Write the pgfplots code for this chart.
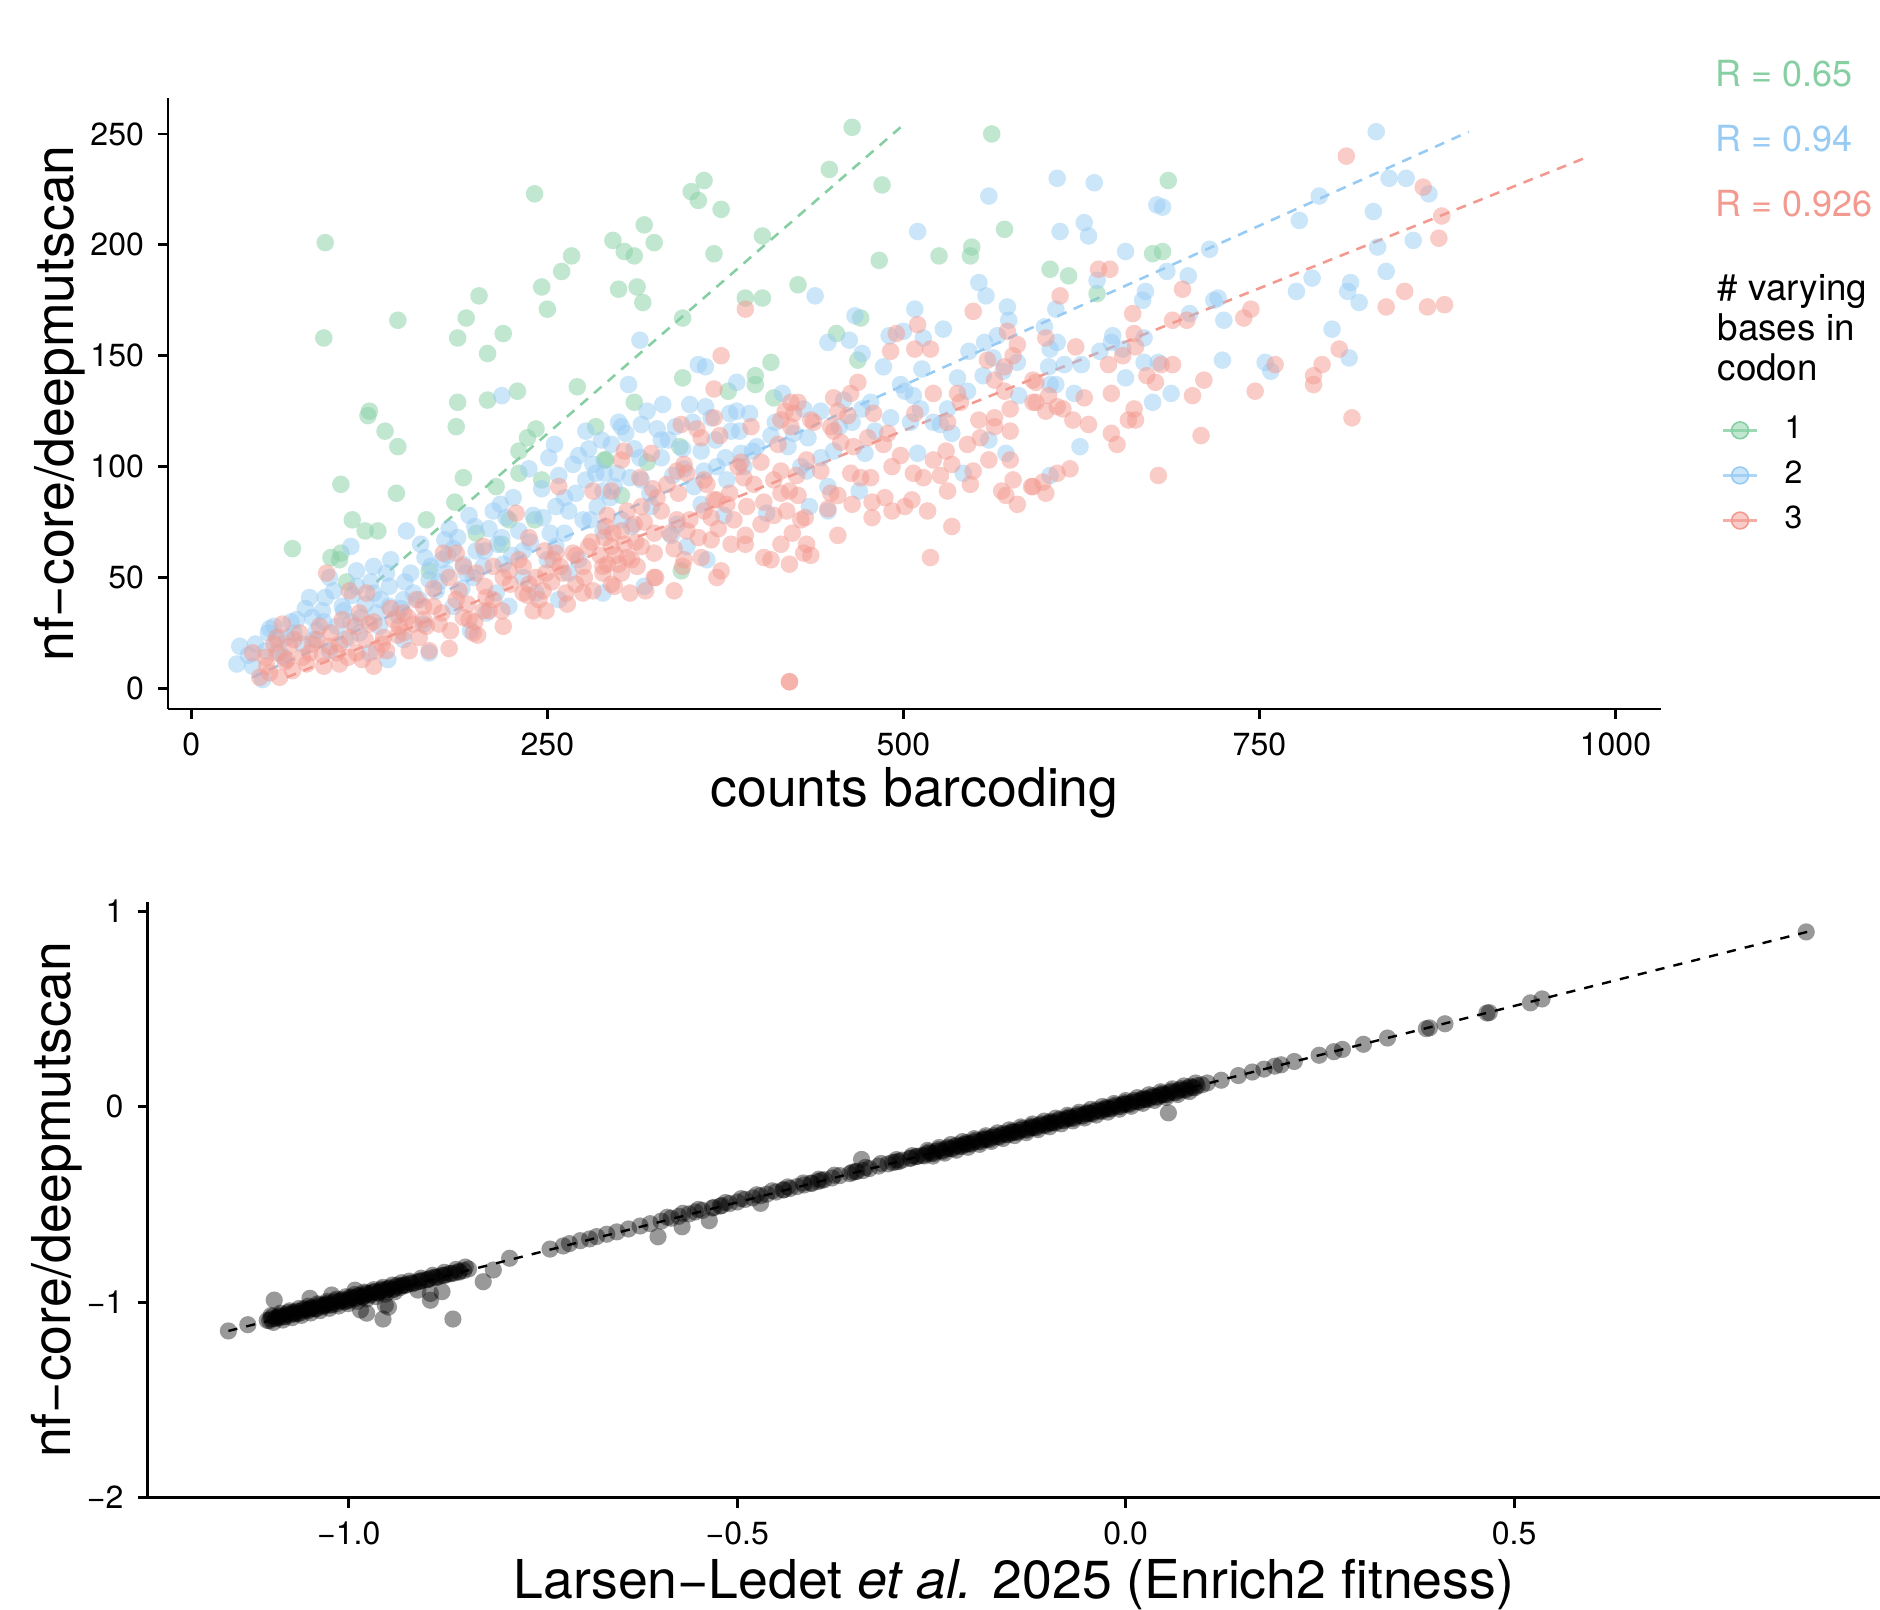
\documentclass[border=0pt]{standalone}
\usepackage{fontspec}
\setmainfont{TeX Gyre Heros}
\usepackage{pgfplots}
\pgfplotsset{compat=1.18}
\definecolor{gA}{HTML}{86CFA3}
\definecolor{bA}{HTML}{98CBF3}
\definecolor{rA}{HTML}{F39A90}

\pgfplotsset{
  gg/.style={
    scale only axis,
    axis lines=left,
    axis line style={-, line width=0.7pt},
    tick style={line width=0.7pt, black},
    major tick length=2.5pt,
    tick align=outside,
    ticklabel style={font=\fontsize{8}{9}\selectfont},
    label style={font=\fontsize{13.4}{15}\selectfont},
  },
  pts/.style={only marks, mark=*, mark size=2.2pt, color=#1,
    mark options={draw opacity=0, fill=#1, fill opacity=0.5},
    legend image code/.code={
      \draw[#1, line width=0.6pt, opacity=0.8] (0pt,0pt) -- (8.5pt,0pt);
      \fill[#1, fill opacity=0.5] (4.25pt,0pt) circle (2.1pt);}},
  fit/.style={#1, line width=0.65pt, dash pattern=on 2.5pt off 2pt, forget plot},
}

\begin{document}
\begin{tikzpicture}
\useasboundingbox (0,0) rectangle (470pt,-402.25pt);

% top panel: counts
\begin{axis}[gg,
  at={(42pt,-24.5pt)}, anchor=north west,
  width=373.25pt, height=152.75pt,
  xmin=-16.4, xmax=1032, ymin=-9.3, ymax=266.2,
  xtick={0,250,500,750,1000}, xticklabels={0,250,500,750,1000},
  ytick={0,50,100,150,200,250}, yticklabels={0,50,100,150,200,250},
  xlabel={counts barcoding},
  xlabel style={at={(axis description cs:0.5,0)}, anchor=base, yshift=-24.25pt},
  ylabel={nf−core/deepmutscan},
  ylabel style={at={(axis description cs:-0.0723,0.5)}, anchor=center},
  legend style={at={(axis description cs:1.0402,0.4809)}, anchor=north west,
    draw=none, fill=none, inner sep=0pt, row sep=4.1pt, column sep=6.6pt,
    nodes={inner sep=0pt}, font=\fontsize{8}{9}\selectfont},
  legend cell align=left,
]
\addplot[pts=gA] coordinates {
(94,201) (93,158) (241,223) (145,166) (202,177) (193,167) (187,158) (219,160)
(208,151) (246,181) (260,188) (267,195) (250,171) (271,136) (229,134) (208,130)
(187,129) (125,125) (124,123) (136,116) (145,109) (186,118) (105,92) (144,88)
(113,76) (122,71) (131,71) (71,63) (98,59) (104,58) (105,61) (109,48) (165,76)
(185,84) (191,95) (200,70) (214,91) (230,97) (230,107) (236,113) (242,117)
(246,94) (241,76) (167,53) (223,76) (284,118) (290,103) (218,65) (464,253)
(562,250) (448,234) (485,227) (360,229) (351,224) (356,220) (372,216) (318,209)
(325,201) (296,202) (304,197) (311,195) (367,196) (401,204) (300,180) (313,181)
(317,174) (345,167) (389,176) (401,176) (426,182) (483,193) (525,195) (548,199)
(547,195) (571,207) (453,160) (470,167) (468,148) (407,147) (345,140) (396,141)
(396,137) (377,134) (311,129) (409,131) (343,109) (291,103) (320,102) (302,87)
(344,53) (686,229) (603,189) (616,186) (675,196) (682,197) (636,178)
};
\addlegendentry{1}
\addplot[pts=bA] coordinates {
(832,251) (608,230) (634,228) (678,218) (682,217) (627,210) (610,206) (630,204)
(656,197) (792,222) (841,230) (853,230) (869,223) (830,215) (778,211) (858,202)
(833,199) (839,188) (715,198) (685,188) (700,186) (636,184) (787,185) (814,183)
(812,179) (820,174) (776,179) (670,179) (668,175) (718,175) (721,176) (607,171)
(725,166) (701,169) (599,163) (608,156) (603,153) (647,159) (646,156) (654,153)
(669,158) (638,152) (801,162) (813,149) (754,147) (758,143) (724,148) (602,145)
(613,146) (625,146) (669,147) (679,147) (656,140) (603,137) (607,137) (620,133)
(688,133) (675,129) (624,109) (603,96)
(560,222) (510,206) (553,183) (558,177) (573,172) (574,166) (438,177) (508,171)
(528,162) (466,168) (490,159) (500,161) (514,158) (315,157) (447,156) (462,157)
(546,152) (557,156) (566,159) (471,151) (356,146) (361,145) (486,145) (513,144)
(538,140) (556,141) (580,147) (307,137) (383,138) (331,128) (415,133) (361,127)
(378,124) (316,119) (327,117) (498,137) (501,134) (507,132) (545,134) (563,149)
(570,143) (581,132) (531,126) (512,126) (477,129) (471,126) (458,130) (442,125)
(491,122) (521,120) (218,132)
(34,19) (32,11) (50,4) (55,27) (54,25) (74,31) (83,41) (94,41) (97,50) (112,64)
(116,53) (128,55) (137,52) (151,71) (139,46) (149,40) (164,59) (181,72) (178,67)
(184,63) (195,78) (217,83) (209,72) (215,65) (237,99) (255,110) (251,104)
(268,101) (262,86) (256,82) (277,116) (279,108) (284,97) (277,94) (285,82)
(289,89) (289,43) (258,40) (242,43) (223,37) (207,34) (196,26) (167,16) (138,13)
(130,34) (106,37) (85,32) (118,25) (97,17) (230,71) (221,77) (247,77) (191,56)
(205,55) (179,52) (167,49) (156,43) (128,43) (139,37) (116,46) (102,28) (67,23)
(43,10) (62,16) (78,20) (163,29) (219,56) (233,50) (272,58) (265,52) (256,64)
(275,76) (289,71) (214,43) (184,37) (149,22) (125,16)
(379,116) (385,116) (407,114) (423,115) (433,113) (464,120) (505,120) (526,119)
(534,115) (560,112) (572,106) (542,97) (510,106) (473,106) (451,107) (442,104)
(419,109) (394,107) (397,109) (386,106) (369,100) (358,107) (346,99) (330,104)
(311,108) (299,97) (290,97) (316,94) (353,91) (376,94) (388,100) (428,100)
(432,98) (447,91) (469,89) (434,82) (447,80) (404,79) (374,78) (358,83) (341,74)
(337,69) (362,58) (309,73) (302,76) (318,46) (348,64) (297,91) (323,82)
(40,15) (60,22) (70,30) (88,26) (92,35) (108,22) (112,30) (122,38) (132,28)
(145,33) (150,48) (160,40) (172,44) (176,58) (190,45) (198,50) (200,62) (225,60)
(238,66) (250,58) (262,70) (270,88) (282,101) (295,110) (300,120) (305,115)
(320,125) (335,112) (340,118) (350,128) (365,122) (392,124) (410,120) (430,126)
(455,118) (480,116)
(45,20) (52,17) (58,28) (65,14) (72,25) (80,36) (86,22) (93,30) (100,44) (107,35)
(113,42) (119,32) (126,48) (133,40) (140,58) (147,36) (154,52) (161,65) (168,55)
(174,48) (180,60) (187,68) (193,52) (199,73) (206,62) (212,80) (218,68) (226,86)
(233,62) (240,78) (246,90) (252,70) (258,96) (265,80) (272,105) (280,76)
(288,112) (294,86) (302,118) (308,95) (315,104) (322,88) (330,112) (338,96)
(345,108) (352,120) (360,98) (368,112) (375,104) (383,125)
};
\addlegendentry{2}
\addplot[pts=rA] coordinates {
(811,240) (865,226) (878,213) (876,203) (637,189) (645,189) (610,177) (696,180)
(661,169) (689,166) (699,166) (739,167) (744,171) (852,179) (839,172) (868,172)
(880,173) (600,158) (621,154) (662,160) (654,150) (663,154) (644,146) (671,141)
(677,138) (681,146) (689,146) (711,139) (703,132) (747,134) (761,146) (794,146)
(806,153) (788,141) (788,137) (815,122) (593,138) (602,132) (593,129) (600,125)
(608,127) (612,126) (627,131) (646,133) (662,126) (619,121) (630,119) (658,121)
(663,121) (646,115) (650,110) (679,96) (709,114) (617,99) (608,97) (598,93)
(591,91) (600,88)
(389,171) (549,170) (510,164) (508,153) (519,153) (495,160) (491,152) (372,150)
(367,135) (367,122) (344,119) (355,117) (421,129) (426,129) (417,125) (423,124)
(414,121) (435,121) (451,131) (468,138) (463,133) (454,125) (461,123) (479,124)
(508,124) (521,133) (538,133) (540,129) (559,148) (564,139) (571,134) (573,161)
(580,155) (577,150) (571,145) (575,126) (591,139) (591,129) (564,122) (553,121)
(531,120)
(358,113) (371,114) (323,106) (304,107) (302,103) (341,98) (348,97) (346,101)
(360,94) (334,92) (315,95) (295,89) (327,86) (316,82) (369,85) (376,83) (360,80)
(390,82) (400,74) (409,78) (381,76) (365,77) (348,71) (341,76) (325,70) (311,74)
(302,71) (295,64) (304,65) (316,64) (325,61) (309,58) (302,52) (295,47) (308,43)
(319,44) (325,50) (339,44) (346,58) (345,55) (358,59) (369,50) (372,53) (365,67)
(379,65) (389,69) (389,65) (402,59) (407,58) (414,65) (420,56) (422,70) (430,61)
(435,60) (432,65) (418,80) (428,76) (431,77) (414,88) (420,89) (426,87) (409,94)
(414,98) (432,103) (442,98) (449,88) (454,87) (447,81) (454,69) (464,83) (478,84)
(478,77) (487,86) (492,80) (501,82) (506,85) (517,80) (519,59) (534,73) (531,89)
(463,97) (470,95) (477,95) (492,100) (498,105) (507,97) (514,95) (521,103)
(530,107) (534,101) (526,96) (549,98) (547,92) (560,103) (575,103) (577,94)
(569,89) (572,87) (580,83) (590,91) (545,110) (554,113) (564,118) (575,116)
(489,115) (486,110) (475,113) (465,109) (456,111) (449,118) (437,120) (451,116)
(421,118) (420,3) (420,3) (393,118) (400,102) (386,102) (367,85) (388,95)
(339,63) (326,50) (313,55) (297,46) (292,56) (290,68) (298,60) (306,59)
(43,16) (48,5) (55,7) (60,16) (64,29) (69,19) (76,25) (83,16) (90,28) (97,19)
(95,52) (102,16) (111,44) (111,23) (116,16) (123,43) (128,10) (118,34) (135,23)
(137,17) (149,25) (153,17) (156,29) (167,17) (163,31) (170,37) (174,29) (177,61)
(181,50) (181,18) (186,61) (186,40) (191,32) (198,25) (200,52) (201,24) (207,41)
(209,35) (205,64) (219,28) (228,79) (233,55) (237,68) (237,47) (240,35) (244,40)
(249,35) (249,52) (258,91) (256,61) (261,52) (263,43) (270,47) (275,43) (282,44)
(275,55) (279,64) (282,89) (289,55) (291,73) (289,52) (268,61) (254,58) (223,53)
(219,50) (212,55) (191,55) (163,37) (149,34) (142,31) (130,17) (120,13) (104,11)
(93,10) (81,11) (71,8) (62,5) (53,10) (60,23) (67,13) (88,22) (106,31) (125,29)
(146,28) (160,23) (195,31) (205,35) (233,43) (247,44)
(52,14) (58,20) (66,12) (72,22) (78,14) (85,20) (92,15) (98,25) (104,20) (110,14)
(115,28) (122,22) (128,30) (134,20) (140,36) (145,24) (152,32) (158,40) (165,28)
(170,45) (176,34) (182,26) (188,44) (194,38) (199,30) (206,46) (212,40) (218,35)
(224,47) (230,58) (236,42) (242,50) (248,62) (253,48) (259,55) (264,38) (270,60)
(276,50) (281,66) (287,60) (292,78) (296,70) (300,56) (306,80) (312,66) (318,75)
(324,90) (330,80) (336,70) (342,88) (350,76) (356,68) (362,92) (370,72) (378,88)
(384,100) (395,92) (402,84) (412,110) (425,96)
};
\addlegendentry{3}
\addplot[fit=gA] coordinates {(130,48) (498,253)};
\addplot[fit=bA] coordinates {(43,5) (897,251)};
\addplot[fit=rA] coordinates {(67,5) (978,239)};
\end{axis}

% labels at the right of the top panel
\node[anchor=base west, text=gA, font=\fontsize{9}{10}\selectfont, inner sep=0pt] at (428.75pt,-21.7pt) {R = 0.65};
\node[anchor=base west, text=bA, font=\fontsize{9}{10}\selectfont, inner sep=0pt] at (428.75pt,-37.9pt) {R = 0.94};
\node[anchor=base west, text=rA, font=\fontsize{9}{10}\selectfont, inner sep=0pt] at (428.75pt,-54.2pt) {R = 0.926};
\node[anchor=base west, font=\fontsize{9.2}{10}\selectfont, inner sep=0pt] at (429.2pt,-75pt) {\# varying};
\node[anchor=base west, font=\fontsize{9.2}{10}\selectfont, inner sep=0pt] at (429.2pt,-85pt) {bases in};
\node[anchor=base west, font=\fontsize{9.2}{10}\selectfont, inner sep=0pt] at (429.2pt,-95pt) {codon};

% bottom panel: fitness
\begin{axis}[gg,
  at={(36.9pt,-225.4pt)}, anchor=north west,
  width=433.1pt, height=149pt,
  xmin=-1.259, xmax=0.971, ymin=-2, ymax=1.05,
  xtick={-1,-0.5,0,0.5}, xticklabels={−1.0,−0.5,0.0,0.5},
  ytick={-2,-1,0,1}, yticklabels={−2,−1,0,1},
  xlabel={Larsen−Ledet \textit{et al.} 2025 (Enrich2 fitness)},
  xlabel style={at={(axis description cs:0.5,0)}, anchor=base, yshift=-25.3pt},
  ylabel={nf−core/deepmutscan},
  ylabel style={at={(axis description cs:-0.0526,0.5)}, anchor=center},
]
\addplot[only marks, mark=*, mark size=2.15pt, color=black,
  mark options={draw opacity=0, fill=black, fill opacity=0.4}] coordinates {
(-1.155,-1.147) (-1.130,-1.115)
(-1.105,-1.093) (-1.100,-1.085) (-1.095,-1.084) (-1.090,-1.072) (-1.085,-1.075)
(-1.080,-1.062) (-1.076,-1.066) (-1.071,-1.052) (-1.066,-1.058) (-1.062,-1.045)
(-1.057,-1.040) (-1.052,-1.043) (-1.048,-1.030) (-1.043,-1.033) (-1.038,-1.020)
(-1.034,-1.024) (-1.029,-1.010) (-1.025,-1.015) (-1.020,-1.002) (-1.015,-1.007)
(-1.010,-0.990) (-1.006,-0.998) (-1.001,-0.985) (-0.996,-0.978) (-0.991,-0.982)
(-0.987,-0.968) (-0.982,-0.972) (-0.977,-0.958) (-0.972,-0.963) (-0.968,-0.948)
(-0.963,-0.952) (-0.958,-0.940) (-0.953,-0.944) (-0.948,-0.930) (-0.944,-0.936)
(-0.939,-0.922) (-0.934,-0.925) (-0.930,-0.912)
(-1.090,-1.080) (-1.070,-1.060) (-1.050,-1.035) (-1.030,-1.015) (-1.000,-0.990)
(-0.980,-0.965) (-0.960,-0.945)
(-1.102,-1.094) (-1.092,-1.078) (-1.082,-1.074) (-1.072,-1.056) (-1.062,-1.054)
(-1.052,-1.036) (-1.042,-1.034) (-1.032,-1.016) (-1.022,-1.014) (-1.012,-0.996)
(-1.002,-0.994) (-0.992,-0.976) (-0.982,-0.974) (-0.972,-0.956) (-0.962,-0.954)
(-0.952,-0.936) (-0.942,-0.934) (-0.932,-0.916)
(-1.098,-1.073) (-1.088,-1.066) (-1.078,-1.053) (-1.068,-1.046) (-1.058,-1.033)
(-1.048,-1.026) (-1.038,-1.013) (-1.028,-1.006) (-1.018,-0.993) (-1.008,-0.986)
(-0.998,-0.973) (-0.988,-0.966) (-0.978,-0.953) (-0.968,-0.946) (-0.958,-0.933)
(-0.948,-0.926) (-0.938,-0.913)
(-1.100,-1.068) (-1.088,-1.056) (-1.076,-1.044) (-1.064,-1.032) (-1.052,-1.020)
(-1.040,-1.008) (-1.028,-0.996) (-1.016,-0.984) (-1.004,-0.972) (-0.992,-0.960)
(-0.980,-0.948) (-0.968,-0.936) (-0.956,-0.924) (-0.944,-0.912) (-0.932,-0.900)
(-1.097,-1.103) (-1.085,-1.091) (-1.073,-1.079) (-1.061,-1.067) (-1.049,-1.055)
(-1.037,-1.043) (-1.025,-1.031) (-1.013,-1.019) (-1.001,-1.007) (-0.989,-0.995)
(-0.977,-0.983) (-0.965,-0.971) (-0.953,-0.959) (-0.941,-0.947)
(-1.096,-0.989) (-1.050,-0.980) (-1.022,-0.963) (-0.992,-0.938) (-0.985,-1.040)
(-0.977,-1.056) (-0.956,-1.086) (-0.953,-1.015) (-0.949,-1.025) (-0.911,-0.938)
(-0.895,-0.955) (-0.895,-0.990) (-0.880,-0.946) (-0.866,-1.086)
(-0.925,-0.910) (-0.920,-0.902) (-0.915,-0.900) (-0.910,-0.893) (-0.905,-0.888)
(-0.900,-0.885) (-0.895,-0.878) (-0.890,-0.872) (-0.885,-0.870) (-0.880,-0.862)
(-0.875,-0.860) (-0.870,-0.853) (-0.864,-0.850) (-0.858,-0.842) (-0.852,-0.838)
(-0.846,-0.830)
(-0.928,-0.915) (-0.918,-0.905) (-0.908,-0.893) (-0.898,-0.884) (-0.888,-0.874)
(-0.878,-0.864) (-0.868,-0.854) (-0.858,-0.846)
(-0.922,-0.892) (-0.907,-0.877) (-0.892,-0.862) (-0.877,-0.847) (-0.862,-0.832)
(-0.850,-0.820)
(-0.827,-0.895) (-0.814,-0.835) (-0.793,-0.775)
(-0.741,-0.728) (-0.724,-0.712) (-0.716,-0.700) (-0.702,-0.685) (-0.690,-0.676)
(-0.681,-0.664) (-0.668,-0.652) (-0.655,-0.640) (-0.640,-0.625) (-0.625,-0.610)
(-0.612,-0.598) (-0.602,-0.665)
(-0.598,-0.585) (-0.585,-0.570) (-0.575,-0.560) (-0.562,-0.548) (-0.554,-0.538)
(-0.545,-0.530) (-0.532,-0.518) (-0.522,-0.508) (-0.510,-0.495) (-0.500,-0.487)
(-0.490,-0.474) (-0.480,-0.466) (-0.470,-0.455) (-0.462,-0.447) (-0.450,-0.436)
(-0.441,-0.425) (-0.432,-0.418) (-0.423,-0.408) (-0.414,-0.400) (-0.405,-0.390)
(-0.396,-0.382) (-0.388,-0.373) (-0.378,-0.364) (-0.368,-0.352) (-0.355,-0.342)
(-0.348,-0.332) (-0.330,-0.316) (-0.318,-0.303) (-0.306,-0.292) (-0.296,-0.282)
(-0.288,-0.273) (-0.278,-0.264) (-0.270,-0.255)
(-0.352,-0.335) (-0.346,-0.330) (-0.338,-0.326) (-0.300,-0.285) (-0.292,-0.280)
(-0.276,-0.262) (-0.268,-0.253) (-0.530,-0.515) (-0.520,-0.505) (-0.440,-0.425)
(-0.404,-0.392) (-0.392,-0.377)
(-0.590,-0.565) (-0.570,-0.545) (-0.550,-0.525) (-0.515,-0.490) (-0.495,-0.470)
(-0.475,-0.450) (-0.455,-0.430) (-0.435,-0.410) (-0.415,-0.390) (-0.395,-0.370)
(-0.375,-0.350) (-0.335,-0.310) (-0.315,-0.290) (-0.295,-0.270) (-0.275,-0.250)
(-0.571,-0.614) (-0.536,-0.583) (-0.470,-0.494) (-0.340,-0.269)
(-0.262,-0.249) (-0.256,-0.240) (-0.250,-0.238) (-0.244,-0.228) (-0.238,-0.225)
(-0.232,-0.216) (-0.226,-0.213) (-0.220,-0.204) (-0.214,-0.201) (-0.208,-0.192)
(-0.202,-0.189) (-0.196,-0.180) (-0.190,-0.177) (-0.184,-0.168) (-0.178,-0.165)
(-0.172,-0.156) (-0.166,-0.153) (-0.160,-0.144) (-0.154,-0.141) (-0.148,-0.132)
(-0.142,-0.129) (-0.136,-0.120) (-0.130,-0.117) (-0.124,-0.108) (-0.118,-0.105)
(-0.112,-0.096) (-0.106,-0.093) (-0.100,-0.084) (-0.094,-0.081) (-0.088,-0.072)
(-0.082,-0.069) (-0.076,-0.060) (-0.070,-0.057) (-0.064,-0.048) (-0.058,-0.045)
(-0.052,-0.036) (-0.046,-0.033) (-0.040,-0.024) (-0.034,-0.021) (-0.028,-0.012)
(-0.022,-0.009) (-0.016,0.000) (-0.010,0.003) (-0.004,0.012) (0.002,0.015)
(0.008,0.024) (0.014,0.027) (0.020,0.036) (0.026,0.039) (0.032,0.048)
(0.038,0.051) (0.044,0.060) (0.050,0.063) (0.056,0.072) (0.062,0.075)
(0.068,0.084) (0.074,0.087) (0.080,0.096) (0.086,0.099) (0.092,0.108)
(0.098,0.112)
(-0.259,-0.251) (-0.247,-0.239) (-0.235,-0.227) (-0.223,-0.215) (-0.211,-0.203)
(-0.199,-0.191) (-0.187,-0.179) (-0.175,-0.167) (-0.163,-0.155) (-0.151,-0.143)
(-0.139,-0.131) (-0.127,-0.119) (-0.115,-0.107) (-0.103,-0.095) (-0.091,-0.083)
(-0.079,-0.071) (-0.067,-0.059) (-0.055,-0.047) (-0.043,-0.035) (-0.031,-0.023)
(-0.019,-0.011) (-0.007,0.001) (0.005,0.013) (0.017,0.025) (0.029,0.037)
(0.041,0.049) (0.053,0.061) (0.065,0.073) (0.077,0.085) (0.089,0.097)
(-0.253,-0.231) (-0.241,-0.219) (-0.229,-0.207) (-0.217,-0.195) (-0.205,-0.183)
(-0.193,-0.171) (-0.181,-0.159) (-0.169,-0.147) (-0.157,-0.135) (-0.145,-0.123)
(-0.133,-0.111) (-0.121,-0.099) (-0.109,-0.087) (-0.097,-0.075) (-0.085,-0.063)
(-0.073,-0.051) (-0.061,-0.039) (-0.049,-0.027) (-0.037,-0.015) (-0.025,-0.003)
(-0.013,0.009) (-0.001,0.021) (0.011,0.033) (0.023,0.045) (0.035,0.057)
(0.047,0.069) (0.059,0.081) (0.071,0.093) (0.083,0.105)
(-0.255,-0.223) (-0.240,-0.208) (-0.225,-0.193) (-0.210,-0.178) (-0.195,-0.163)
(-0.180,-0.148) (-0.165,-0.133) (-0.150,-0.118) (-0.135,-0.103) (-0.120,-0.088)
(-0.105,-0.073) (-0.090,-0.058) (-0.075,-0.043) (-0.060,-0.028) (-0.045,-0.013)
(-0.030,0.002) (-0.015,0.017) (0.000,0.032) (0.015,0.047) (0.030,0.062)
(0.045,0.077) (0.060,0.092) (0.075,0.107) (0.090,0.122)
(-0.248,-0.252) (-0.233,-0.237) (-0.218,-0.222) (-0.203,-0.207) (-0.188,-0.192)
(-0.173,-0.177) (-0.158,-0.162) (-0.143,-0.147) (-0.128,-0.132) (-0.113,-0.117)
(-0.098,-0.102) (-0.083,-0.087) (-0.068,-0.072) (-0.053,-0.057) (-0.038,-0.042)
(-0.023,-0.027) (-0.008,-0.012) (0.007,0.003) (0.022,0.018) (0.037,0.033)
(0.052,0.048) (0.067,0.063) (0.082,0.078)
(-0.145,-0.131) (-0.121,-0.107) (-0.097,-0.083) (-0.073,-0.059) (-0.049,-0.035)
(-0.025,-0.011) (-0.001,0.013) (0.023,0.037) (0.047,0.061) (-0.205,-0.191)
(-0.181,-0.167) (0.055,-0.031)
(0.105,0.122) (0.123,0.136) (0.145,0.160) (0.163,0.178) (0.178,0.193)
(0.192,0.208) (0.200,0.215) (0.217,0.232) (0.249,0.264) (0.268,0.282)
(0.279,0.294) (0.306,0.320) (0.337,0.352) (0.387,0.400) (0.391,0.404)
(0.411,0.425) (0.465,0.480) (0.468,0.482) (0.521,0.532) (0.536,0.552)
(0.876,0.895)
};
\addplot[black, line width=0.6pt, dash pattern=on 2.3pt off 2.3pt] coordinates {(-1.155,-1.147) (0.884,0.902)};
\end{axis}
\end{tikzpicture}
\end{document}
